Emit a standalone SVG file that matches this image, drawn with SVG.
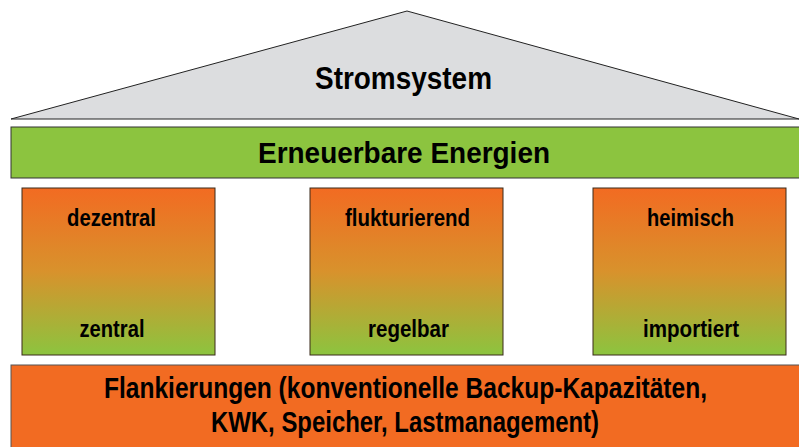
<svg xmlns="http://www.w3.org/2000/svg" width="799" height="447" viewBox="0 0 799 447">
<defs>
<linearGradient id="g" x1="0" y1="0" x2="0" y2="1">
<stop offset="0" stop-color="#F26B22"/>
<stop offset="0.5" stop-color="#D8922C"/>
<stop offset="1" stop-color="#8CC43F"/>
</linearGradient>
<style>
text{font-family:"Liberation Sans",Arial,sans-serif;font-weight:bold;fill:#000;text-anchor:middle}
.box{fill:url(#g);stroke:#3a2a1a;stroke-width:1}
.t{font-size:24px}
</style>
</defs>
<g id="roof">
<polygon points="11,119 407,11 799,119" fill="#DCDDDF" stroke="#222" stroke-width="1"/>
<text x="403.5" y="89" font-size="31" textLength="177" lengthAdjust="spacingAndGlyphs">Stromsystem</text>
</g>
<g id="erneuerbare">
<rect x="11" y="127" width="789" height="51" fill="#8CC43F" stroke="#333" stroke-width="1"/>
<text x="404" y="163" font-size="30" textLength="292" lengthAdjust="spacingAndGlyphs">Erneuerbare Energien</text>
</g>
<g id="box1">
<rect class="box" x="22" y="188" width="193" height="167"/>
<text class="t" x="111.5" y="226" textLength="89" lengthAdjust="spacingAndGlyphs">dezentral</text>
<text class="t" x="112" y="337" textLength="65" lengthAdjust="spacingAndGlyphs">zentral</text>
</g>
<g id="box2">
<rect class="box" x="310" y="188" width="193" height="167"/>
<text class="t" x="407.5" y="226" textLength="125" lengthAdjust="spacingAndGlyphs">flukturierend</text>
<text class="t" x="408.5" y="337" textLength="81" lengthAdjust="spacingAndGlyphs">regelbar</text>
</g>
<g id="box3">
<rect class="box" x="593" y="188" width="193" height="167"/>
<text class="t" x="690.5" y="226" textLength="87" lengthAdjust="spacingAndGlyphs">heimisch</text>
<text class="t" x="691" y="337" textLength="96" lengthAdjust="spacingAndGlyphs">importiert</text>
</g>
<g id="flankierungen">
<rect x="11" y="365" width="789" height="83" fill="#F26B22" stroke="#555" stroke-width="1"/>
<text x="405.5" y="398" font-size="29" textLength="603" lengthAdjust="spacingAndGlyphs">Flankierungen (konventionelle Backup-Kapazitäten,</text>
<text x="405" y="432" font-size="29" textLength="388" lengthAdjust="spacingAndGlyphs">KWK, Speicher, Lastmanagement)</text>
</g>
<g id="connectors"/>
</svg>
